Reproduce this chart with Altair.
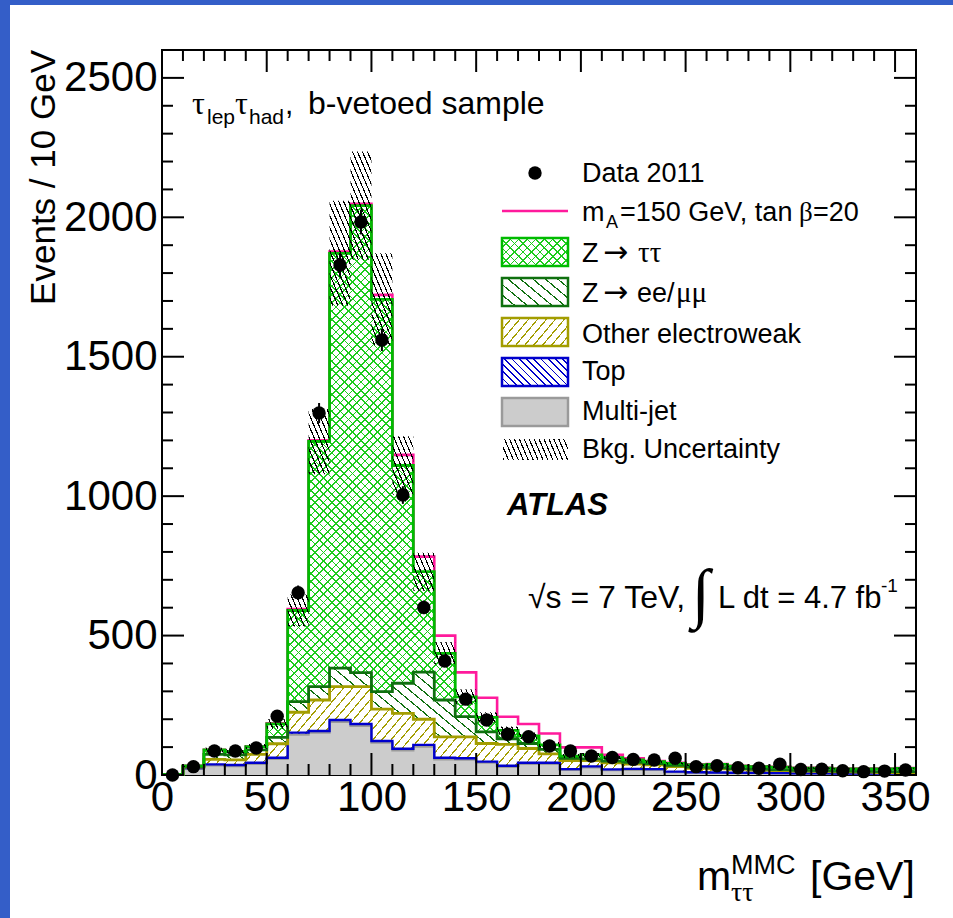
import math
import numpy as np
import pandas as pd
import altair as alt

# ---------------- data ----------------
bin_edges = list(range(0, 370, 10))          # 0 .. 360 GeV, 36 bins
bin_centers = [e + 5 for e in range(0, 360, 10)]

multijet = [1, 22, 34, 32, 40, 58, 145, 152, 190, 176, 116, 88, 102, 56, 55, 44, 29, 40,
            40, 18, 27, 17, 18, 18, 10, 8, 8, 7, 7, 6, 5, 5, 4, 4, 4, 4]
top = [0, 3, 4, 4, 4, 4, 7, 6, 7, 7, 6, 6, 6, 6, 5, 4, 4, 4,
       4, 3, 4, 3, 4, 3, 2, 2, 1, 1, 1, 1, 1, 1, 1, 1, 1, 1]
other_ew = [0, 3, 18, 18, 30, 50, 73, 111, 120, 134, 114, 127, 92, 75, 77, 65, 77, 51,
            32, 31, 21, 24, 17, 15, 18, 14, 13, 12, 10, 9, 8, 7, 6, 5, 4, 4]
z_ll = [0, 3, 18, 18, 16, 23, 38, 48, 66, 50, 63, 108, 169, 132, 72, 42, 20, 18,
        16, 8, 6, 6, 6, 5, 5, 4, 4, 3, 3, 3, 3, 3, 3, 3, 3, 3]
z_tautau = [0, 2, 16, 12, 12, 48, 327, 879, 1488, 1675, 1407, 781, 360, 167, 71, 52, 30, 27,
            16, 8, 14, 12, 9, 7, 7, 8, 12, 9, 9, 9, 8, 9, 8, 9, 10, 12]
signal = [0, 0, 0, 0, 0, 2, 5, 4, 6, 6, 16, 38, 54, 64, 88, 70, 49, 43,
          41, 31, 27, 10, 6, 2, 2, 2, 1, 1, 1, 1, 1, 1, 1, 1, 1, 1]
bkg_unc = [0, 4, 8, 8, 9, 17, 57, 117, 188, 194, 165, 105, 68, 40, 27, 18, 14, 12,
           10, 7, 7, 6, 5, 5, 4, 4, 4, 3, 3, 3, 3, 3, 2, 2, 2, 2]
data_counts = [0, 30, 86, 86, 97, 211, 654, 1298, 1829, 1983, 1560, 1004, 601, 409, 272, 197, 146, 137,
               104, 86, 68, 63, 56, 54, 60, 30, 33, 26, 24, 39, 20, 21, 15, 12, 14, 18]

x_major = [0, 50, 100, 150, 200, 250, 300, 350]
y_major = [0, 500, 1000, 1500, 2000, 2500]
x_minor = [v for v in range(0, 361, 10) if v % 50 != 0]
y_minor = [v for v in range(0, 2601, 100) if v % 500 != 0]

# ---------------- layout ----------------
W, H = 754, 725
XMAX, YMAX = 360, 2600
PY = H / YMAX
SANS = "Liberation Sans"
SERIF = "Liberation Serif"
ARROW = "DejaVu Sans"

C_ZTT = "#1ccc1c"
C_ZTT_LINE = "#00bb00"
C_ZLL = "#0f700f"
C_OEW = "#a39d00"
C_TOP = "#0000cc"
C_MJ_FILL = "#cccccc"
C_MJ_LINE = "#9a9a9a"
C_SIG = "#ff1a9c"
C_BLUE_BORDER = "#345ec8"


def hatch(color, angle, spacing, w, h, lw=1.2):
    """Linear-gradient stripes (bbox units) imitating a ROOT hatch style."""
    th = math.radians(angle)
    nx, ny = math.sin(th), math.cos(th)
    a0, b0 = nx * w, ny * h
    corners = [(0, 0), (1, 0), (0, 1), (1, 1)]
    proj = [u * a0 + v * b0 for (u, v) in corners]
    i0, i1 = proj.index(min(proj)), proj.index(max(proj))
    d = proj[i1] - proj[i0]
    k = d / (a0 * a0 + b0 * b0)
    p1 = corners[i0]
    p2 = (p1[0] + a0 * k, p1[1] + b0 * k)
    n = max(1, int(round(d / spacing)))
    f = min(0.9, lw / (d / n))
    clear = "rgba(255,255,255,0)"
    stops = []
    for i in range(n):
        o = round(i / n, 6)
        e = round((i + f) / n, 6)
        stops += [{"offset": o, "color": clear}, {"offset": o, "color": color},
                  {"offset": e, "color": color}, {"offset": e, "color": clear}]
    return {"gradient": "linear", "x1": p1[0], "y1": p1[1],
            "x2": p2[0], "y2": p2[1], "stops": stops}


xs = alt.Scale(domain=[0, XMAX], nice=False, zero=False)
ys = alt.Scale(domain=[0, YMAX], nice=False, zero=False)
xaxis = alt.Axis(values=x_major, title=None, tickSize=0, domain=False, grid=False,
                 labelFont=SANS, labelFontSize=42, labelColor="black", labelPadding=2,
                 labelFlush=False, labelOverlap=False, format="d")
yaxis = alt.Axis(values=y_major, title=None, tickSize=0, domain=False, grid=False,
                 labelFont=SANS, labelFontSize=42, labelColor="black", labelPadding=5,
                 labelFlush=False, labelOverlap=False, format="d")


def X(f):
    return alt.X(f, type="quantitative", scale=xs, axis=xaxis)


def Y(f):
    return alt.Y(f, type="quantitative", scale=ys, axis=yaxis)


comps = np.array([multijet, top, other_ew, z_ll, z_tautau], dtype=float)
cum = np.cumsum(comps, axis=0)
low = np.vstack([np.zeros(comps.shape[1]), cum[:-1]])
total = cum[-1]
with_signal = total + np.array(signal, dtype=float)
unc = np.array(bkg_unc, dtype=float)


def step_df(lo, hi):
    lo = list(lo) + [lo[-1]]
    hi = list(hi) + [hi[-1]]
    return pd.DataFrame({"edge": bin_edges, "lo": lo, "hi": hi})


def bbox_h(lo, hi):
    return max(2.0, (max(hi) - min(lo)) * PY)


def area(lo, hi, fill):
    return alt.Chart(step_df(lo, hi)).mark_area(
        interpolate="step-after", fill=fill, strokeWidth=0
    ).encode(x=X("edge"), y=Y("hi"), y2=alt.Y2("lo"))


def outline(vals, color, width):
    df = step_df(np.zeros(len(vals)), vals)
    return alt.Chart(df).mark_line(
        interpolate="step-after", color=color, strokeWidth=width
    ).encode(x=X("edge"), y=Y("hi"))


layers = []

# stacked backgrounds
layers.append(area(low[0], cum[0], C_MJ_FILL))
layers.append(area(low[1], cum[1], hatch(C_TOP, 135, 5, W, bbox_h(low[1], cum[1]))))
layers.append(area(low[2], cum[2], hatch(C_OEW, 50, 7, W, bbox_h(low[2], cum[2]))))
layers.append(area(low[3], cum[3], hatch(C_ZLL, 140, 8, W, bbox_h(low[3], cum[3]))))
hz = bbox_h(low[4], cum[4])
layers.append(area(low[4], cum[4], hatch(C_ZTT, 45, 5.9, W, hz)))
layers.append(area(low[4], cum[4], hatch(C_ZTT, 135, 5.9, W, hz)))

# outlines
layers.append(outline(with_signal, C_SIG, 2.6))
layers.append(outline(cum[0], C_MJ_LINE, 2.2))
layers.append(outline(cum[1], C_TOP, 2.4))
layers.append(outline(cum[2], C_OEW, 2.8))
layers.append(outline(cum[3], C_ZLL, 2.8))
layers.append(outline(cum[4], C_ZTT_LINE, 2.8))

# background uncertainty band
ulo, uhi = total - unc, total + unc
layers.append(area(ulo, uhi, hatch("black", 113, 4.6, W, bbox_h(ulo, uhi), lw=1.1)))

# data with statistical error bars
ddf = pd.DataFrame({"c": bin_centers, "n": data_counts})
layers.append(alt.Chart(ddf).transform_calculate(
    lo="datum.n - sqrt(datum.n)", hi="datum.n + sqrt(datum.n)"
).mark_rule(color="black", strokeWidth=2).encode(x=X("c"), y=Y("lo"), y2=alt.Y2("hi")))
layers.append(alt.Chart(ddf).mark_circle(size=180, color="black", opacity=1).encode(
    x=X("c"), y=Y("n")))


# inward ticks (ROOT style) on all four sides
def yticks(vals, length):
    df = pd.DataFrame({"v": vals})
    return [
        alt.Chart(df).mark_rule(color="black", strokeWidth=2).encode(
            y=Y("v"), x=alt.value(0), x2=alt.value(length)),
        alt.Chart(df).mark_rule(color="black", strokeWidth=2).encode(
            y=Y("v"), x=alt.value(W), x2=alt.value(W - length)),
    ]


def xticks(vals, length):
    df = pd.DataFrame({"v": vals})
    return [
        alt.Chart(df).mark_rule(color="black", strokeWidth=2).encode(
            x=X("v"), y=alt.value(H), y2=alt.value(H - length)),
        alt.Chart(df).mark_rule(color="black", strokeWidth=2).encode(
            x=X("v"), y=alt.value(0), y2=alt.value(length)),
    ]


layers += yticks(y_major, 22) + yticks(y_minor, 11)
layers += xticks(x_major, 22) + xticks(x_minor, 11)

one = pd.DataFrame({"k": [0]})


def txt(s, x, y, size, font=SANS, align="left", baseline="alphabetic", **kw):
    return alt.Chart(one).mark_text(
        text=s, fontSize=size, font=font, align=align, baseline=baseline,
        color="black", **kw
    ).encode(x=alt.value(x), y=alt.value(y))


def box(x0, x1, y0, y1, fill, stroke=None, sw=2.5):
    kw = {"fill": fill}
    if stroke is not None:
        kw.update(stroke=stroke, strokeWidth=sw)
    else:
        kw.update(strokeWidth=0)
    return alt.Chart(one).mark_rect(**kw).encode(
        x=alt.value(x0), x2=alt.value(x1), y=alt.value(y0), y2=alt.value(y1))


# blue page border strips
layers.append(box(-162, -152, -50, 868, C_BLUE_BORDER))
layers.append(box(-162, 791, -50, -45, C_BLUE_BORDER))

# axis titles
layers.append(txt("Events / 10 GeV", -118, 0, 35, align="right", baseline="middle", angle=270))
layers.append(txt("m", 535, 840, 41))
layers.append(txt("MMC", 569, 824, 27))
layers.append(txt("ττ", 569, 851, 28, font=SERIF))
layers.append(txt("[GeV]", 648, 840, 41))

# sample label
layers.append(txt("τ", 30, 64, 32, font=SERIF))
layers.append(txt("lep", 45, 74, 21))
layers.append(txt("τ", 73, 64, 32, font=SERIF))
layers.append(txt("had", 87, 74, 21))
layers.append(txt(",", 123, 64, 30))
layers.append(txt("b-vetoed sample", 146, 64, 32))

# legend
LX0, LX1, TX = 340, 406, 420
LF = 27
layers.append(alt.Chart(one).mark_circle(size=180, color="black", opacity=1).encode(
    x=alt.value(373), y=alt.value(123)))
layers.append(txt("Data 2011", TX, 132, LF))

layers.append(alt.Chart(one).mark_rule(color=C_SIG, strokeWidth=2.6).encode(
    x=alt.value(LX0), x2=alt.value(LX1), y=alt.value(161)))
layers.append(txt("m", TX, 171, LF))
layers.append(txt("A", 444, 178, 18))
layers.append(txt("=150 GeV, tan", 458, 171, LF))
layers.append(txt("β", 637, 171, LF, font=SERIF))
layers.append(txt("=20", 651, 171, LF))

bw, bh = LX1 - LX0, 28
layers.append(box(LX0, LX1, 188, 216, hatch(C_ZTT, 45, 5.9, bw, bh)))
layers.append(box(LX0, LX1, 188, 216, hatch(C_ZTT, 135, 5.9, bw, bh), C_ZTT_LINE))
layers.append(txt("Z", TX, 212, LF))
layers.append(txt("→", 441, 212, 30, font=ARROW))
layers.append(txt("ττ", 476, 212, LF + 2, font=SERIF))

layers.append(box(LX0, LX1, 228, 256, hatch(C_ZLL, 140, 8, bw, bh), C_ZLL))
layers.append(txt("Z", TX, 252, LF))
layers.append(txt("→", 441, 252, 30, font=ARROW))
layers.append(txt("ee/", 475, 252, LF))
layers.append(txt("μμ", 514, 252, LF + 2, font=SERIF))

layers.append(box(LX0, LX1, 268, 296, hatch(C_OEW, 50, 7, bw, bh), C_OEW))
layers.append(txt("Other electroweak", TX, 293, LF))

layers.append(box(LX0, LX1, 308, 336, hatch(C_TOP, 135, 5, bw, bh), C_TOP))
layers.append(txt("Top", TX, 330, LF))

layers.append(box(LX0, LX1, 348, 376, C_MJ_FILL, C_MJ_LINE))
layers.append(txt("Multi-jet", TX, 370, LF))

layers.append(box(LX0 + 1, LX1, 389, 410, hatch("black", 113, 4.6, bw - 1, 21, lw=1.1)))
layers.append(txt("Bkg. Uncertainty", TX, 408, LF))

# ATLAS label and luminosity
layers.append(txt("ATLAS", 345, 465, 31, fontStyle="italic", fontWeight="bold"))
layers.append(txt("√s = 7 TeV,", 366, 558, 32))
layers.append(txt("∫", 539, 545, 66, font=SERIF, align="center", baseline="middle"))
layers.append(txt("L dt = 4.7 fb", 556, 558, 31))
layers.append(txt("-1", 719, 542, 19))

chart = alt.layer(*layers).properties(
    width=W, height=H,
    autosize=alt.AutoSizeParams(type="none"),
    padding={"left": 162, "top": 50, "right": 37, "bottom": 143},
    background="white",
).configure_view(stroke="black", strokeWidth=2)

chart.save("out.html", embed_options={"renderer": "svg", "actions": False})
